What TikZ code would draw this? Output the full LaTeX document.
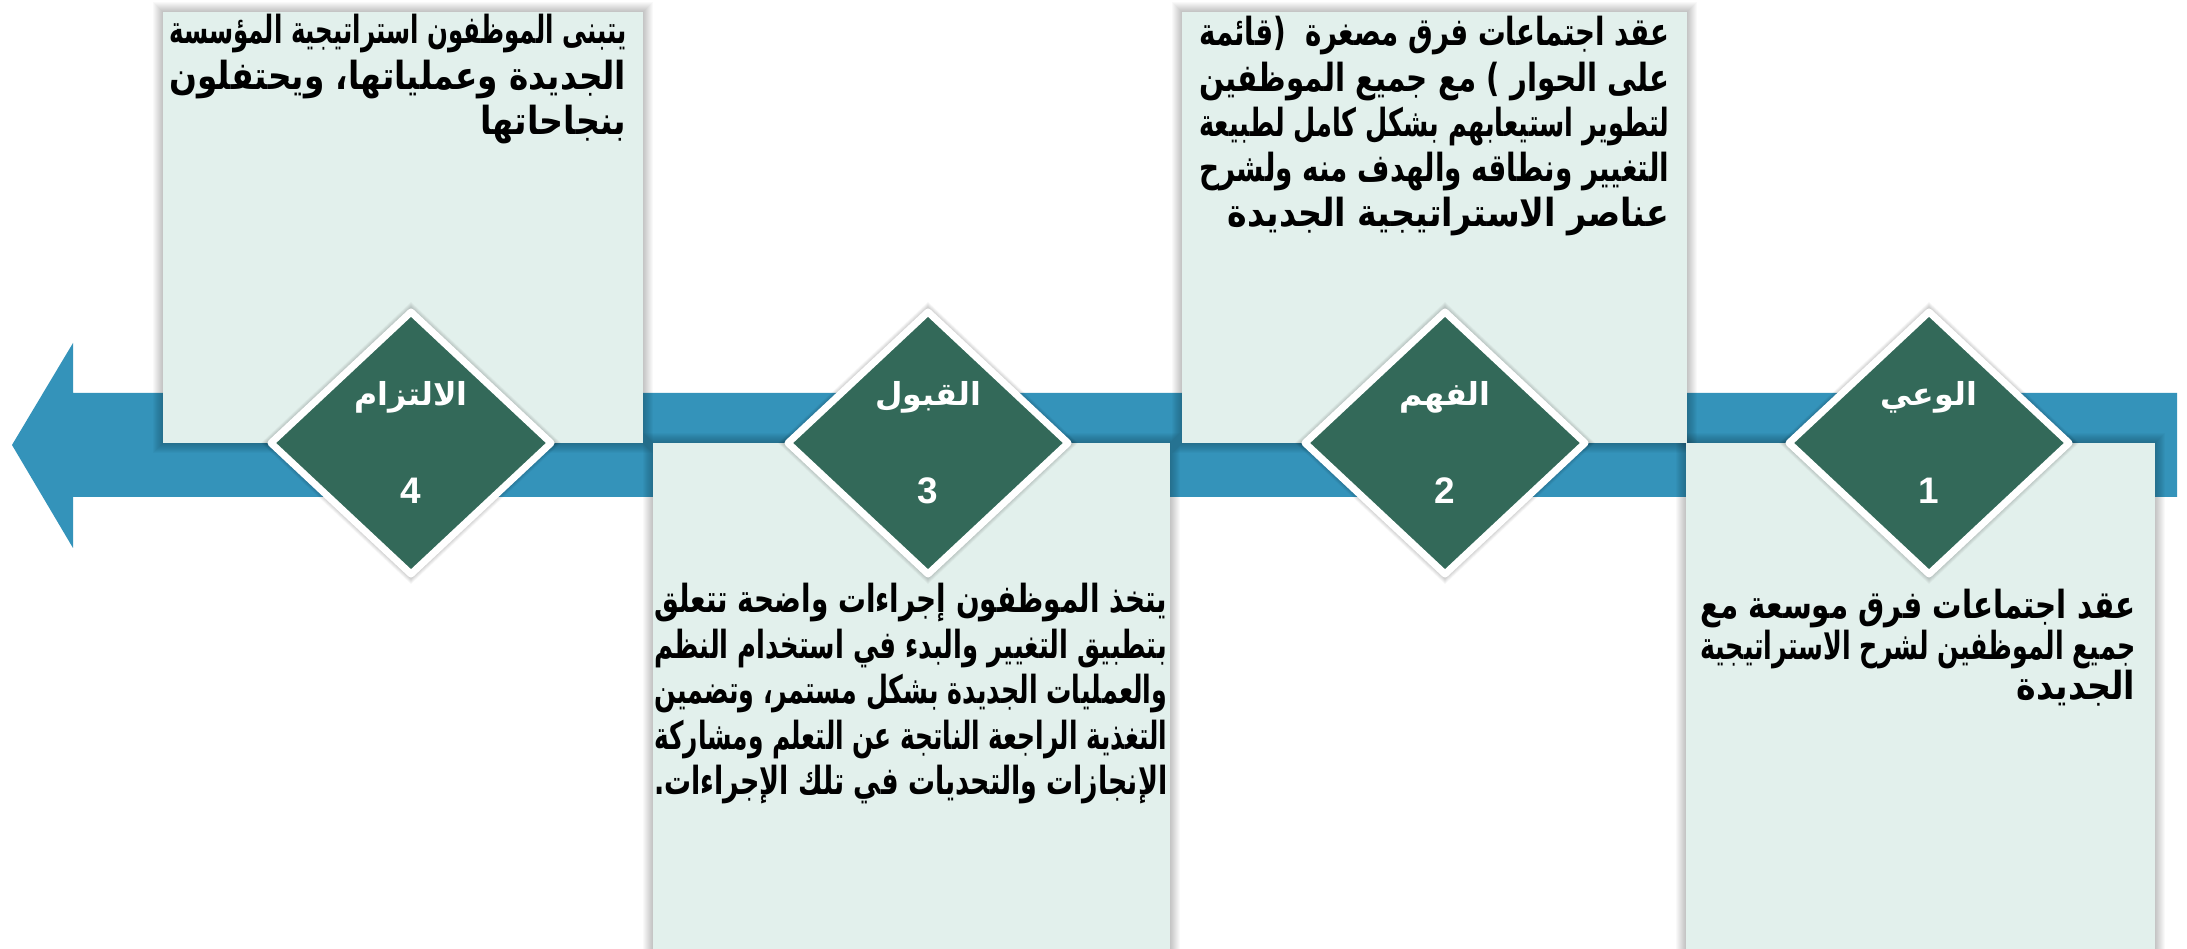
\documentclass[tikz,border=0pt]{standalone}
\usepackage{fontspec}
\usepackage{graphicx}
\TeXXeTstate=1
\newfontfamily\arabicfont[Script=Arabic,FakeStretch=0.86]{DejaVu Sans}
\newfontfamily\stagefont[Script=Arabic]{DejaVu Sans}
\newfontfamily\numfont{Liberation Sans}
\definecolor{bandblue}{RGB}{52,147,186}
\definecolor{cardfill}{RGB}{226,240,236}
\definecolor{stagegreen}{RGB}{51,105,89}

% one pixel of the drawing grid
\newlength\pxu \setlength\pxu{0.01cm}
\newlength\linew
\newlength\natw
\newsavebox\linebox
% squeeze a line horizontally when it is wider than the column
\newcommand\squeezeline{%
  \setlength\natw{\wd\linebox}%
  \pgfmathsetmacro\fitratio{\linew/\natw}%
  \hbox to\linew{\scalebox{\fitratio}[1]{\usebox\linebox}}}
% justified right-to-left line
\newcommand\jl[1]{\sbox\linebox{\beginR #1\endR}%
  \ifdim\wd\linebox>\linew \squeezeline
  \else \hbox to\linew{\beginR #1\endR}\fi}
% last line of a paragraph, set flush right
\newcommand\lastln[1]{\sbox\linebox{\beginR #1\endR}%
  \ifdim\wd\linebox>\linew \squeezeline
  \else \hbox to\linew{\hfil\usebox\linebox}\fi}
\newcommand\cardpar[2]{\vtop{\setlength\linew{#1\pxu}#2}}

% soft shadow around a rectangle
\newcommand\rectshadow[4]{%
  \foreach \k in {1,...,10}{\fill[black,opacity=0.024] (#1-\k,#2-\k) rectangle (#3+\k,#4+\k);}}
% soft shadow around a diamond
\newcommand\diamondshadow[1]{%
  \foreach \k in {1,...,6}{\fill[black,opacity=0.03]
    (#1-144-\k,443) -- (#1,443-135-\k) -- (#1+144+\k,443) -- (#1,443+135+\k) -- cycle;}}

\begin{document}
\begin{tikzpicture}[x=0.01cm,y=-0.01cm,
  card/.style={fill=cardfill},
  cardtext/.style={inner sep=0pt, anchor=base east, text=black,
    font=\arabicfont\bfseries\fontsize{11}{12.8}\selectfont},
  stagebox/.style={fill=stagegreen, draw=white, line width=7\pxu, line join=round},
  stagelabel/.style={inner sep=0pt, anchor=base, text=white,
    font=\stagefont\bfseries\fontsize{9}{10}\selectfont},
  stagenum/.style={inner sep=0pt, anchor=base, text=white,
    font=\numfont\bfseries\fontsize{10.5}{11}\selectfont},
]
\useasboundingbox (0,0) rectangle (2187,949);
\fill[white] (0,0) rectangle (2187,949);

% timeline arrow pointing left
\fill[bandblue] (2177,393) -- (73,393) -- (73,343) -- (12,445) -- (73,548)
  -- (73,497) -- (2177,497) -- cycle;

% card shadows
\rectshadow{163}{12}{643}{443}
\rectshadow{1182}{12}{1687}{443}
\rectshadow{653}{443}{1170}{975}
\rectshadow{1686}{443}{2155}{975}

% cards
\fill[card] (163,12) rectangle (643,443);
\fill[card] (1182,12) rectangle (1687,443);
\fill[card] (653,443) rectangle (1170,975);
\fill[card] (1686,443) rectangle (2155,975);

% card texts
\node[cardtext] (t4) at (627,44) {\cardpar{457}{%
  \jl{يتبنى الموظفون استراتيجية المؤسسة}%
  \jl{الجديدة وعملياتها، ويحتفلون}%
  \lastln{بنجاحاتها}}};
\node[cardtext] (t2) at (1670,46) {\cardpar{470}{%
  \jl{عقد اجتماعات فرق مصغرة\ \ (قائمة}%
  \jl{على الحوار ) مع جميع الموظفين}%
  \jl{لتطوير استيعابهم بشكل كامل لطبيعة}%
  \jl{التغيير ونطاقه والهدف منه ولشرح}%
  \lastln{عناصر الاستراتيجية الجديدة}}};
\node[cardtext, font=\arabicfont\bfseries\fontsize{11}{12.9}\selectfont]
  (t3) at (1168,613) {\cardpar{513}{%
  \jl{يتخذ الموظفون إجراءات واضحة تتعلق}%
  \jl{بتطبيق التغيير والبدء في استخدام النظم}%
  \jl{والعمليات الجديدة بشكل مستمر، وتضمين}%
  \jl{التغذية الراجعة الناتجة عن التعلم ومشاركة}%
  \lastln{الإنجازات والتحديات في تلك الإجراءات.}}};
\node[cardtext, font=\arabicfont\bfseries\fontsize{11}{11.5}\selectfont]
  (t1) at (2136,619) {\cardpar{435}{%
  \jl{عقد اجتماعات فرق موسعة مع}%
  \jl{جميع الموظفين لشرح الاستراتيجية}%
  \lastln{الجديدة}}};

% stage diamonds
\foreach \cx in {411,928,1445,1929}{\diamondshadow{\cx}}
\foreach \cx in {411,928,1445,1929}{
  \draw[stagebox] (\cx-140,443) -- (\cx,443-131) -- (\cx+140,443) -- (\cx,443+131) -- cycle;}

\node[stagelabel] (l4) at (411,406) {\beginR الالتزام\endR};
\node[stagenum]   (n4) at (411,504) {4};
\node[stagelabel] (l3) at (928,406) {\beginR القبول\endR};
\node[stagenum]   (n3) at (928,504) {3};
\node[stagelabel] (l2) at (1445,406) {\beginR الفهم\endR};
\node[stagenum]   (n2) at (1445,504) {2};
\node[stagelabel] (l1) at (1929,406) {\beginR الوعي\endR};
\node[stagenum]   (n1) at (1929,504) {1};
\end{tikzpicture}
\end{document}
